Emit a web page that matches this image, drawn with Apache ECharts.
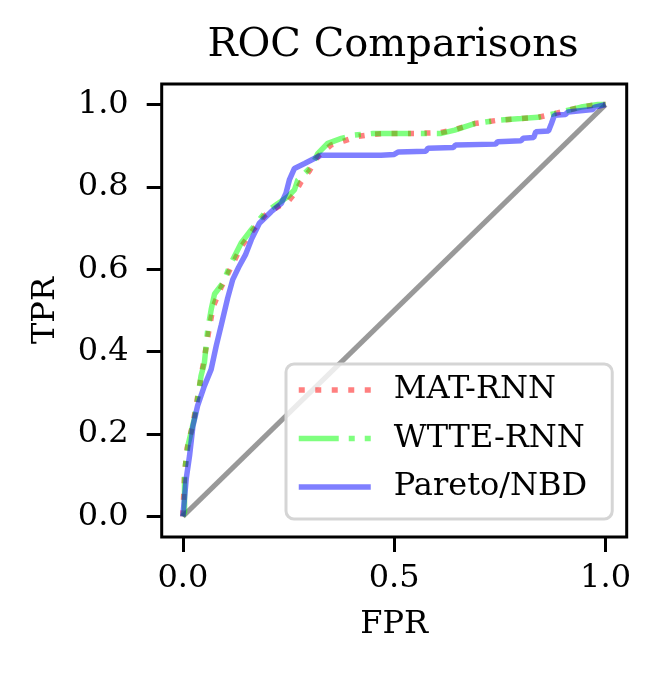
<!DOCTYPE html>
<html><head><meta charset="utf-8">
<script src="https://cdn.jsdelivr.net/npm/echarts@6/dist/echarts.min.js"></script>
<style>html,body{margin:0;padding:0;background:#fff}#c{width:661px;height:677px}</style>
</head><body><div id="c"></div>
<script>
const xTicks = [0, 0.5, 1.0];
const yTicks = [0, 0.2, 0.4, 0.6, 0.8, 1.0];
const seriesNames = ['MAT-RNN', 'WTTE-RNN', 'Pareto/NBD'];

const fprMat = [0, 0.004, 0.010, 0.025, 0.035, 0.045, 0.055, 0.063, 0.072, 0.090, 0.114, 0.138, 0.162, 0.193, 0.225, 0.250, 0.265, 0.280, 0.300, 0.320, 0.351, 0.382, 0.41, 0.45, 0.49, 0.55, 0.61, 0.645, 0.69, 0.745, 0.80, 0.84, 0.88, 0.94, 0.98, 1.0];
const tprMat = [0, 0.10, 0.165, 0.23, 0.29, 0.35, 0.41, 0.46, 0.51, 0.555, 0.605, 0.655, 0.69, 0.73, 0.752, 0.766, 0.785, 0.813, 0.84, 0.875, 0.902, 0.912, 0.922, 0.928, 0.930, 0.930, 0.932, 0.94, 0.954, 0.962, 0.966, 0.969, 0.978, 0.994, 1.0, 1.0];

const fprWtte = [0, 0.004, 0.004, 0.012, 0.027, 0.035, 0.043, 0.051, 0.055, 0.059, 0.067, 0.075, 0.095, 0.114, 0.138, 0.162, 0.193, 0.225, 0.248, 0.264, 0.272, 0.288, 0.304, 0.319, 0.343, 0.375, 0.406, 0.45, 0.485, 0.55, 0.611, 0.643, 0.690, 0.745, 0.800, 0.840, 0.879, 0.942, 0.982, 1.0];
const tprWtte = [0, 0.011, 0.107, 0.172, 0.236, 0.285, 0.341, 0.373, 0.414, 0.454, 0.502, 0.540, 0.567, 0.615, 0.664, 0.696, 0.736, 0.760, 0.776, 0.793, 0.817, 0.833, 0.849, 0.881, 0.906, 0.918, 0.926, 0.930, 0.930, 0.930, 0.930, 0.938, 0.954, 0.962, 0.966, 0.969, 0.978, 0.994, 1.0, 1.0];

const fprPareto = [0, 0.004, 0.008, 0.016, 0.024, 0.035, 0.051, 0.067, 0.079, 0.091, 0.106, 0.118, 0.132, 0.148, 0.162, 0.181, 0.209, 0.233, 0.244, 0.252, 0.264, 0.288, 0.311, 0.327, 0.469, 0.50, 0.51, 0.575, 0.58, 0.64, 0.645, 0.74, 0.745, 0.80, 0.805, 0.83, 0.835, 0.865, 0.872, 0.876, 0.879, 0.905, 0.911, 0.97, 0.974, 1.0];
const tprPareto = [0, 0.002, 0.091, 0.148, 0.220, 0.269, 0.317, 0.357, 0.414, 0.465, 0.530, 0.575, 0.605, 0.635, 0.672, 0.712, 0.740, 0.760, 0.785, 0.817, 0.845, 0.857, 0.869, 0.877, 0.877, 0.879, 0.885, 0.887, 0.894, 0.896, 0.902, 0.904, 0.910, 0.912, 0.918, 0.920, 0.934, 0.936, 0.954, 0.956, 0.974, 0.976, 0.982, 0.988, 0.994, 1.0];

const diagX = [0, 1];
const diagY = [0, 1];

const zip = (a, b) => a.map((v, i) => [v, b[i]]);
const FONT = 'DejaVu Serif';
const LW = 5.5;

const chart = echarts.init(document.getElementById('c'), null, {renderer: 'canvas'});
chart.setOption({
  animation: false,
  backgroundColor: '#fff',
  title: {
    text: 'ROC Comparisons', left: 388, top: 21, textAlign: 'center',
    textStyle: {fontFamily: FONT, fontWeight: 'normal', fontSize: 40, color: '#000'}
  },
  grid: {left: 161.7, right: 34.3, top: 84, bottom: 140, show: true, borderColor: '#000', borderWidth: 3, backgroundColor: 'transparent'},
  legend: {
    data: seriesNames, orient: 'vertical', left: 286, top: 364,
    itemWidth: 72, itemHeight: 14, itemGap: 14.5,
    padding: [9, 25, 15, 10],
    backgroundColor: 'rgba(255,255,255,0.8)', borderColor: '#d5d5d5', borderWidth: 3, borderRadius: 8,
    itemStyle: {opacity: 0},
    lineStyle: {width: LW},
    textStyle: {fontFamily: FONT, fontSize: 32, color: '#000', lineHeight: 34, padding: [0, 0, 0, 18]}
  },
  xAxis: {
    type: 'value', min: -0.05, max: 1.05,
    name: 'FPR', nameLocation: 'middle', nameGap: 72,
    nameTextStyle: {fontFamily: FONT, fontSize: 32, color: '#000'},
    axisLine: {show: false, onZero: false},
    axisTick: {show: true, length: 15, customValues: xTicks, lineStyle: {color: '#000', width: 3}},
    axisLabel: {customValues: xTicks, margin: 26, fontFamily: FONT, fontSize: 32, color: '#000', formatter: v => v.toFixed(1)},
    splitLine: {show: false}
  },
  yAxis: {
    type: 'value', min: -0.05, max: 1.05,
    name: 'TPR', nameLocation: 'middle', nameGap: 100,
    nameTextStyle: {fontFamily: FONT, fontSize: 32, color: '#000'},
    axisLine: {show: false, onZero: false},
    axisTick: {show: true, length: 15, customValues: yTicks, lineStyle: {color: '#000', width: 3}},
    axisLabel: {customValues: yTicks, margin: 33, fontFamily: FONT, fontSize: 32, color: '#000', formatter: v => v.toFixed(1)},
    splitLine: {show: false}
  },
  series: [
    {type: 'line', name: 'diag', data: zip(diagX, diagY), symbol: 'none', silent: true,
     lineStyle: {color: 'rgba(0,0,0,0.4)', width: 5}, z: 1},
    {type: 'line', name: seriesNames[0], data: zip(fprMat, tprMat), symbol: 'none', showSymbol: false,
     itemStyle: {color: 'rgba(255,0,0,0.5)'},
     lineStyle: {color: 'rgba(255,0,0,0.5)', width: LW, type: [6, 10.5], cap: 'butt'}, z: 2},
    {type: 'line', name: seriesNames[1], data: zip(fprWtte, tprWtte), symbol: 'none', showSymbol: false,
     itemStyle: {color: 'rgba(0,255,0,0.5)'},
     lineStyle: {color: 'rgba(0,255,0,0.5)', width: LW, type: [40, 10, 6, 10], cap: 'butt'}, z: 3},
    {type: 'line', name: seriesNames[2], data: zip(fprPareto, tprPareto), symbol: 'none', showSymbol: false,
     itemStyle: {color: 'rgba(0,0,255,0.5)'},
     lineStyle: {color: 'rgba(0,0,255,0.5)', width: LW}, z: 4}
  ]
});
</script></body></html>
